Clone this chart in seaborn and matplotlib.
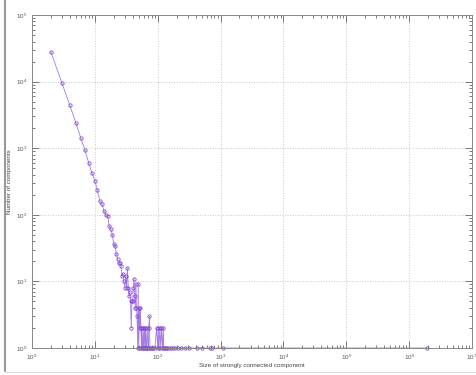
import numpy as np
import pandas as pd
import matplotlib
matplotlib.use('Agg')
import matplotlib.pyplot as plt
from matplotlib.lines import Line2D
from matplotlib.ticker import LogLocator, NullFormatter
import seaborn as sns

# velikost komponenty a pocet komponent
sizes = [2, 3, 4, 5, 6, 7, 8, 9, 10, 11, 12, 13, 14, 15, 16, 17, 18, 19, 20,
         21, 22, 23, 24, 25, 26, 27, 28, 29, 30, 31, 32, 33, 34, 35, 36, 37,
         38, 39, 40, 41, 42, 43, 44, 45, 46, 47, 48, 49, 50, 51, 52, 53, 54,
         55, 56, 57, 58, 59, 60, 62, 63, 64, 65, 66, 68, 70, 71, 72, 74, 75,
         78, 80, 85, 90, 96, 100, 102, 105, 108, 112, 115, 120, 123, 125, 130,
         135, 140, 150, 160, 175, 190, 210, 235, 270, 315, 425, 510, 680, 730,
         1090, 1900000]
counts = [28000, 9500, 4400, 2400, 1400, 925, 600, 424, 324, 232, 161, 145,
          115, 98, 97, 67, 61, 50, 37, 34, 26, 22, 19, 19, 17, 12, 13, 10, 8,
          12, 8, 16, 8, 6, 7, 5, 2, 5, 5, 8, 11, 6, 4, 9, 4, 3, 1, 9, 1, 4, 2,
          4, 2, 1, 2, 1, 1, 2, 1, 2, 1, 2, 1, 1, 2, 1, 1, 2, 3, 1, 1, 1, 1, 1,
          2, 1, 2, 1, 2, 1, 2, 1, 2, 1, 1, 1, 1, 1, 1, 1, 1, 1, 1, 1, 1, 1, 1,
          1, 1, 1, 1]

df = pd.DataFrame({'size': sizes, 'count': counts})

sns.set_style('white')
plt.rcParams['font.family'] = ['Liberation Sans', 'DejaVu Sans']

fig = plt.figure(figsize=(4.77, 3.75), dpi=100)
ax = fig.add_axes([0.067, 0.072, 0.9225, 0.888])

sns.lineplot(data=df, x='size', y='count', ax=ax, estimator=None, sort=True,
             color='#a47ce6', linewidth=0.6, marker='o', markersize=2.4,
             markerfacecolor='none', markeredgecolor='#8a4ad6',
             markeredgewidth=0.6, clip_on=False)

ax.set_xscale('log')
ax.set_yscale('log')
ax.set_xlim(1, 1e7)
ax.set_ylim(1, 1e5)
ax.set_xticks([10.0 ** k for k in range(8)])
ax.set_yticks([10.0 ** k for k in range(6)])
ax.xaxis.set_minor_locator(LogLocator(base=10, subs=np.arange(2, 10), numticks=100))
ax.yaxis.set_minor_locator(LogLocator(base=10, subs=np.arange(2, 10), numticks=100))
ax.xaxis.set_minor_formatter(NullFormatter())
ax.yaxis.set_minor_formatter(NullFormatter())

ax.grid(True, which='major', linestyle=':', color='#c8c8c8', linewidth=0.7)
ax.tick_params(which='both', direction='in', bottom=True, left=True, top=True,
               right=True, colors='#666666', labelcolor='#555555',
               labelsize=4.5, width=0.6)
ax.tick_params(which='major', length=5)
ax.tick_params(which='minor', length=2.5)
for s in ax.spines.values():
    s.set_color('#888888')
    s.set_linewidth(0.7)

ax.set_xlabel('Size of strongly connected component', fontsize=4.5, color='#444444')
ax.set_ylabel('Number of components', fontsize=4.5, color='#444444')
ax.xaxis.set_label_coords(0.5, -0.045)
ax.yaxis.set_label_coords(-0.045, 0.5)

# okraje ze snimku obrazovky
fig.add_artist(Line2D([0.011, 0.011], [0.01, 1.0], color='#999999', linewidth=1.5))
fig.add_artist(Line2D([0.011, 1.0], [0.007, 0.007], color='#dddddd', linewidth=0.8))

fig.savefig('out.png', dpi=100, facecolor='white')
